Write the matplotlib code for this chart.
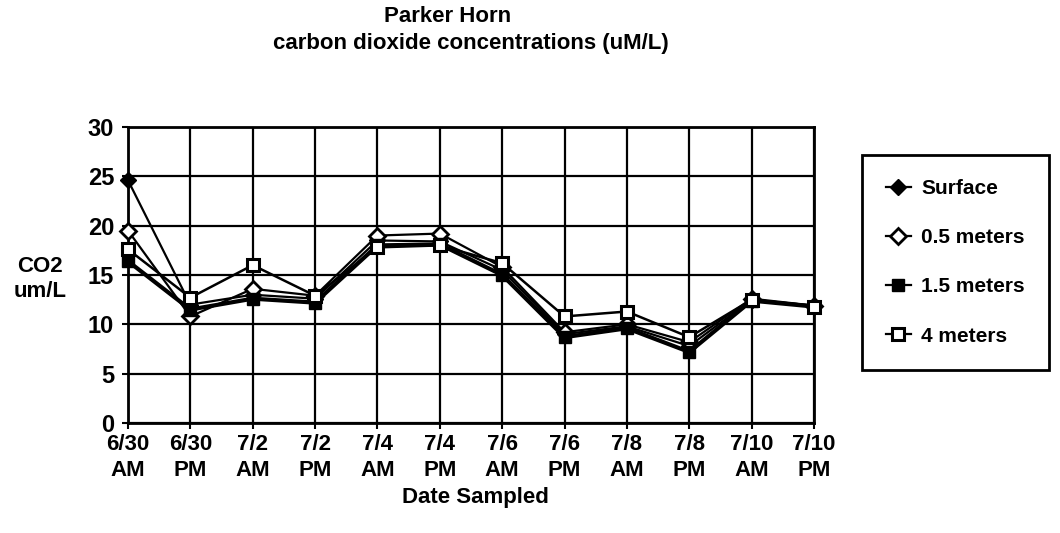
import matplotlib
matplotlib.use("Agg")
import matplotlib.pyplot as plt
from matplotlib import font_manager

# ---- data ----
categories = ["6/30\nAM", "6/30\nPM", "7/2\nAM", "7/2\nPM", "7/4\nAM", "7/4\nPM",
              "7/6\nAM", "7/6\nPM", "7/8\nAM", "7/8\nPM", "7/10\nAM", "7/10\nPM"]
surface = [24.6, 12.0, 13.0, 12.6, 18.5, 18.4, 15.5, 9.0, 9.8, 7.8, 12.5, 11.9]
m05 = [19.5, 10.8, 13.6, 12.9, 19.0, 19.2, 15.8, 9.2, 10.0, 8.2, 12.6, 11.9]
m15 = [16.4, 11.5, 12.6, 12.2, 18.0, 18.1, 15.0, 8.7, 9.6, 7.2, 12.4, 11.8]
m4 = [17.6, 12.7, 16.0, 12.9, 17.8, 18.0, 16.2, 10.8, 11.3, 8.7, 12.5, 11.8]
series_names = ["Surface", "0.5 meters", "1.5 meters", "4 meters"]
yticks = [0, 5, 10, 15, 20, 25, 30]

avail = {f.name for f in font_manager.fontManager.ttflist}
fam = "Liberation Sans Narrow" if "Liberation Sans Narrow" in avail else "Liberation Sans"
plt.rcParams['font.family'] = [fam, 'DejaVu Sans']
plt.rcParams['font.weight'] = 'bold'

fig = plt.figure(figsize=(10.6, 5.33), dpi=100)
ax = fig.add_axes([128/1060, 1-423/533, (814-128)/1060, (423-127)/533])

x = list(range(len(categories)))
styles = [
    dict(marker='D', mfc='black', mec='black', ms=8, lw=1.6),
    dict(marker='D', mfc='white', mec='black', ms=8, mew=2, lw=1.6),
    dict(marker='s', mfc='black', mec='black', ms=9, lw=3.0),
    dict(marker='s', mfc='white', mec='black', ms=9, mew=2.2, lw=1.8),
]
handles = []
for vals, name, st in zip([surface, m05, m15, m4], series_names, styles):
    h, = ax.plot(x, vals, color='black', label=name, clip_on=False, zorder=3, **st)
    handles.append(h)

ax.set_xlim(0, len(categories) - 1)
ax.set_ylim(0, 30)
ax.set_yticks(yticks)
ax.set_xticks(x)
ax.set_xticklabels(categories, fontsize=16, fontweight='bold', linespacing=1.3)
ax.tick_params(axis='y', labelsize=17, length=4, width=1.5, pad=6)
ax.tick_params(axis='x', length=4, width=1.5, pad=4)
ax.grid(True, color='black', linewidth=1.6)
ax.set_axisbelow(True)
for s in ax.spines.values():
    s.set_linewidth(2)
    s.set_color('black')

fig.text(448/1060, 1-17/533, "Parker Horn", ha='center', va='center', fontsize=16, fontweight='bold')
fig.text(471/1060, 1-43/533, "carbon dioxide concentrations (uM/L)", ha='center', va='center',
         fontsize=16, fontweight='bold')
fig.text(40/1060, 1-279/533, "CO2\num/L", ha='center', va='center', fontsize=16,
         fontweight='bold', linespacing=1.3)
fig.text(475/1060, 1-497/533, "Date Sampled", ha='center', va='center', fontsize=16, fontweight='bold')

leg = fig.legend(handles=handles, loc='upper left',
                 bbox_to_anchor=(862/1060, 1-155/533), frameon=True, fancybox=False,
                 framealpha=1, handlelength=1.2, labelspacing=1.45, borderpad=1.15,
                 borderaxespad=0, handletextpad=0.5, prop={'weight': 'bold', 'size': 15})
leg.get_frame().set_edgecolor('black')
leg.get_frame().set_linewidth(2)
for h in leg.legend_handles:
    h.set_linewidth(1.6)
    h.set_markersize(8)

fig.savefig("out.png", dpi=100)
